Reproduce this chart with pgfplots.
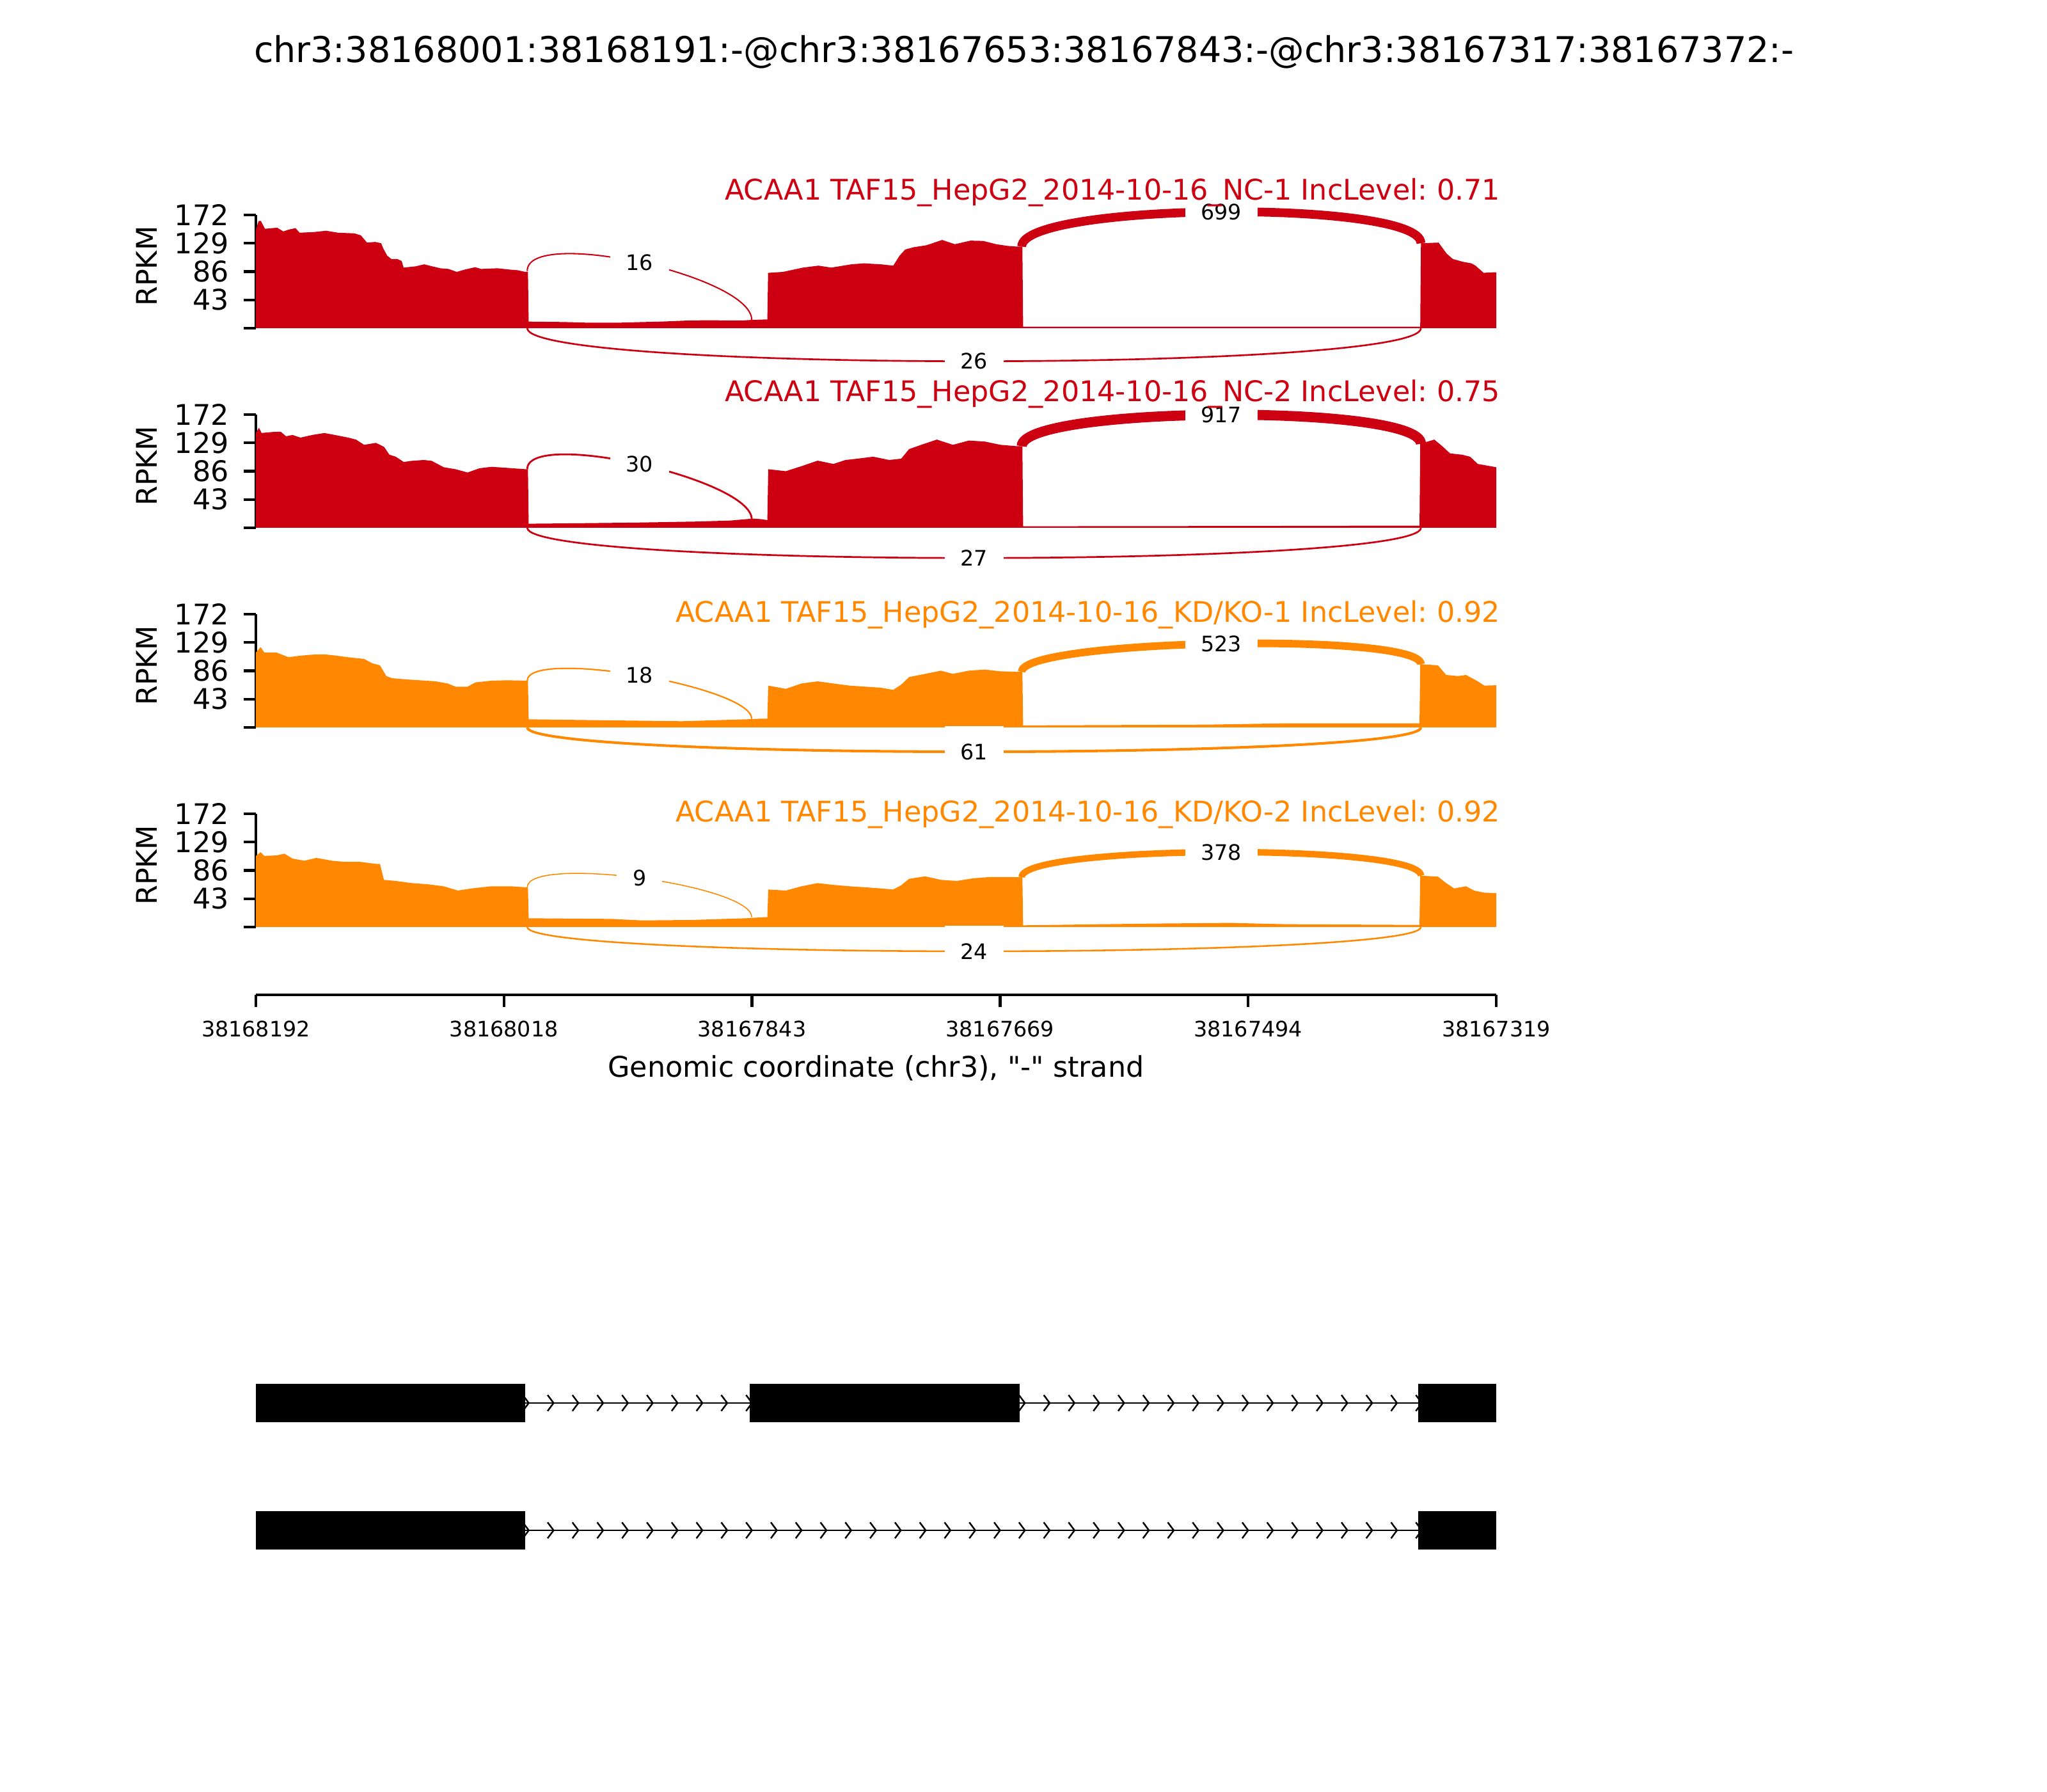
\documentclass[border=0pt]{standalone}
\usepackage{fontspec}
\setmainfont{DejaVu Sans}[Ligatures=TeXOff]
\usepackage{pgfplots}
\pgfplotsset{compat=1.18}
\frenchspacing

\definecolor{ncred}{HTML}{CC0011}
\definecolor{kdorange}{HTML}{FF8800}

\newcommand{\fs}[1]{\fontsize{#1}{#1}\selectfont}

% intron chevron
\pgfdeclareplotmark{chev}{%
  \pgfpathmoveto{\pgfqpoint{-1.68pt}{2.25pt}}%
  \pgfpathlineto{\pgfqpoint{0pt}{0pt}}%
  \pgfpathlineto{\pgfqpoint{-1.68pt}{-2.25pt}}%
  \pgfusepathqstroke}

\tikzset{
  jlab/.style={fill=white, text=black, font=\fs{6}, inner xsep=4.45pt,
    inner ysep=5pt, text height=4.4pt, text depth=0pt},
  ptitle/.style={anchor=base east, inner sep=0pt, font=\fs{8}, xshift=1.3pt},
}

\pgfplotsset{
  panel/.style={
    scale only axis, width=349.02pt, height=31.86pt,
    anchor=south west,
    xmin=0, xmax=873, ymin=0, ymax=172,
    clip=false,
    axis x line=none, axis y line*=left,
    y axis line style={-, line width=0.8pt},
    ytick={0,43,86,129,172}, yticklabels={,43,86,129,172},
    tick align=outside, major tick length=3.5pt,
    ytick style={line width=0.8pt, black},
    yticklabel style={font=\fs{8}, anchor=east, inner sep=0pt, xshift=-3.9pt},
    /pgf/number format/assume math mode=true,
  },
}

\begin{document}
\begin{tikzpicture}
\useasboundingbox (0,0) rectangle (576pt,504pt);

% ---------- NC-1 ----------
\begin{axis}[panel, at={(72pt,411.66pt)}]
\addplot[fill=ncred, draw=none] coordinates {
(0,150) (2,163) (3.5,163) (6.4,151) (15,152.6) (19.3,147) (23.6,150) (27.9,152)
(30.8,145) (40.8,146) (49.4,148) (58,145) (69.5,144) (73.9,141) (78.2,130) (84,131)
(88.2,129) (89.7,121) (92.5,110) (95.4,105) (99.7,105) (102.6,102) (104,92) (112.6,94)
(118.4,97) (124,94) (129.9,91) (135.6,90) (141.4,85.5) (147,89) (154.3,92.6) (158.6,90)
(170,91) (178.7,89) (184.4,88) (189.6,85.5) (191.5,86)
(192,10) (216,9.4) (233,8.4) (256,8.4) (273.5,9.4) (285,10) (305,11.7) (316.5,12)
(342.4,11.7) (349.6,12.6) (360,13.3)
(360.5,84) (371,85.5) (385,92) (396,95) (405,92) (419,97) (428,98.5) (440,97)
(448.6,95) (453,110) (457,119.5) (463,123) (472,126) (483,134) (492,127.6) (503,133)
(512,132.5) (521,127.6) (529,125) (535,124) (539.5,124)
(540,2.3) (700,2.3) (819.5,2.3)
(820,129) (832.4,130) (838.2,113) (842.5,105) (849.8,100.7) (855.5,98.5) (858.4,95)
(864.2,84) (867,84.5) (873,85)
} \closedcycle;
\draw[ncred, line width=0.37pt] (axis cs:191,87) .. controls (axis cs:191,154) and (axis cs:349,79.6) .. (axis cs:349,12.6) node[jlab, pos=0.5] {16};
\draw[ncred, line width=2.47pt] (axis cs:539,124) .. controls (axis cs:539,191) and (axis cs:820,196) .. (axis cs:820,129) node[jlab, pos=0.5] {699};
\draw[ncred, line width=0.48pt] (axis cs:191,0) .. controls (axis cs:191,-67) and (axis cs:820,-67) .. (axis cs:820,0) node[jlab, pos=0.5] {26};
\node[rotate=90, font=\fs{8}] at ([xshift=-30.7pt]axis cs:0,94) {RPKM};
\node[ptitle, text=ncred] at ([yshift=4.14pt]axis cs:873,172) {ACAA1 TAF15\_HepG2\_2014-10-16\_NC-1 IncLevel: 0.71};
\end{axis}

% ---------- NC-2 ----------
\begin{axis}[panel, at={(72pt,355.5pt)}]
\addplot[fill=ncred, draw=none] coordinates {
(0,144) (2.2,152) (4,144) (11.75,145.5) (17.4,146) (21.3,139) (25.75,141) (31.4,137)
(39.75,141) (48.2,144) (56.6,140.6) (65,137) (70.5,134) (76.2,126) (84.5,129) (90.2,123)
(94,111) (98.5,108) (104,100) (109.75,101.7) (118.15,103) (123.75,101.7) (132.2,92)
(140.55,89) (149,84) (157.35,90.4) (165.75,92.6) (177,91) (189.8,89) (191.5,89)
(192,6.2) (230,7) (270,8) (310,9.5) (334,11) (350,14) (356,13) (360,11.7)
(360.6,89) (373,86) (384,93.6) (395.4,102) (406.5,97) (415,103) (423.4,105) (434.5,108)
(445.75,103) (454.2,105) (459.75,119.5) (468.2,126) (479.35,134) (490.55,126)
(501.75,132.5) (513,131) (524.15,126) (535.35,124) (539.5,124)
(540,2.3) (700,2.8) (780,3.2) (819,3.2)
(819.5,127.6) (829.4,134) (835,124) (840.5,113) (849,111) (854.6,108) (860,97) (873,92)
} \closedcycle;
\draw[ncred, line width=0.51pt] (axis cs:191,89) .. controls (axis cs:191,150.2) and (axis cs:349,74.2) .. (axis cs:349,13) node[jlab, pos=0.5] {30};
\draw[ncred, line width=2.83pt] (axis cs:539,124) .. controls (axis cs:539,185.2) and (axis cs:820,188.8) .. (axis cs:820,127.6) node[jlab, pos=0.5] {917};
\draw[ncred, line width=0.49pt] (axis cs:191,0) .. controls (axis cs:191,-61.2) and (axis cs:820,-61.2) .. (axis cs:820,0) node[jlab, pos=0.5] {27};
\node[rotate=90, font=\fs{8}] at ([xshift=-30.7pt]axis cs:0,94) {RPKM};
\node[ptitle, text=ncred] at ([yshift=3.6pt]axis cs:873,172) {ACAA1 TAF15\_HepG2\_2014-10-16\_NC-2 IncLevel: 0.75};
\end{axis}

% ---------- KD/KO-1 ----------
\begin{axis}[panel, at={(72pt,299.34pt)}]
\addplot[fill=kdorange, draw=none] coordinates {
(0,113.7) (3.35,122) (6,113.7) (14.55,113.7) (23,106.6) (31.35,109) (39.75,110.5)
(48.2,111) (56.6,109) (65,106.6) (76.2,104) (81.75,97.5) (87.35,94.3) (91.8,78)
(95.75,74.8) (104.15,73.2) (115.35,71.6) (126.55,70) (135,66.7) (140.55,61.9) (149,61.9)
(154.55,68.4) (165.75,71) (177,71.6) (189.8,71) (191.5,71)
(192,12.3) (250,10.7) (300,9.4) (345,12.3) (356,13.3) (360,13.3)
(360.6,63.5) (373,58.6) (384,66.7) (395.4,70) (406.5,66.7) (417.75,63.5) (429,61.9)
(440,60.3) (448.6,57) (454.2,65) (459.75,76.5) (471,81.3) (482.2,86.2) (490.55,81.3)
(501.75,86.2) (513,87.8) (524.15,85.2) (535.35,84.5) (539.5,84.5)
(540,3) (670,4.2) (725,6.2) (819,6.2)
(819.5,96) (832,94.3) (837.75,79.7) (846,78) (851.75,79.7) (860,70) (864.6,63.5) (873,64)
} \closedcycle;
\draw[kdorange, line width=0.40pt] (axis cs:191,71) .. controls (axis cs:191,120.3) and (axis cs:349,62.3) .. (axis cs:349,13) node[jlab, pos=0.5] {18};
\draw[kdorange, line width=2.14pt] (axis cs:539,84.5) .. controls (axis cs:539,133.8) and (axis cs:820,145.3) .. (axis cs:820,96) node[jlab, pos=0.5] {523};
\draw[kdorange, line width=0.73pt] (axis cs:191,0) .. controls (axis cs:191,-49.3) and (axis cs:820,-49.3) .. (axis cs:820,0) node[jlab, pos=0.5] {61};
\node[rotate=90, font=\fs{8}] at ([xshift=-30.7pt]axis cs:0,94) {RPKM};
\node[ptitle, text=kdorange] at ([yshift=-2.16pt]axis cs:873,172) {ACAA1 TAF15\_HepG2\_2014-10-16\_KD/KO-1 IncLevel: 0.92};
\end{axis}

% ---------- KD/KO-2 ----------
\begin{axis}[panel, at={(72pt,243.18pt)}]
\addplot[fill=kdorange, draw=none] coordinates {
(0,108) (3.35,113.7) (6,108) (14.55,108.8) (20.15,111.4) (25.75,104) (34.15,100.7)
(42.55,105) (53.75,100.7) (62.15,99) (73.35,99) (84.55,95.9) (87.35,95.9) (90.15,71.6)
(98.55,70) (109.75,66.7) (120.95,65) (132.15,61.9) (142.2,55.4) (151.75,58.6)
(165.75,61.9) (179.75,61.9) (189.8,60.3) (191.5,60.3)
(192,13.3) (250,12.3) (272,10) (306,10.7) (345,13.3) (357,14.9) (360,14.9)
(360.6,57) (373,55.4) (384,61.9) (395.4,66.7) (406.5,64) (417.75,61.9) (429,60.3)
(440,58.6) (448.6,57) (454.2,63.5) (459.75,73.2) (471,77) (482.2,71.6) (493.4,70)
(504.6,73.9) (515.75,75.8) (535.35,75.8) (539.5,75.8)
(540,2.6) (630,5.2) (686,6.2) (726,4.2) (819,3.2)
(819.5,78) (832,76.5) (837.75,66.7) (843.35,58.6) (851.75,61.9) (857.35,55.4)
(864.6,52.2) (873,51.5)
} \closedcycle;
\draw[kdorange, line width=0.28pt] (axis cs:191,60.3) .. controls (axis cs:191,109.5) and (axis cs:349,64.2) .. (axis cs:349,15) node[jlab, pos=0.5] {9};
\draw[kdorange, line width=1.82pt] (axis cs:539,75.8) .. controls (axis cs:539,125) and (axis cs:820,127.2) .. (axis cs:820,78) node[jlab, pos=0.5] {378};
\draw[kdorange, line width=0.46pt] (axis cs:191,0) .. controls (axis cs:191,-49.2) and (axis cs:820,-49.2) .. (axis cs:820,0) node[jlab, pos=0.5] {24};
\node[rotate=90, font=\fs{8}] at ([xshift=-30.7pt]axis cs:0,94) {RPKM};
\node[ptitle, text=kdorange] at ([yshift=-2.16pt]axis cs:873,172) {ACAA1 TAF15\_HepG2\_2014-10-16\_KD/KO-2 IncLevel: 0.92};
\end{axis}

% ---------- genomic x axis ----------
\begin{axis}[
  scale only axis, width=349.02pt, height=10pt,
  at={(72pt,224.1pt)}, anchor=south west,
  xmin=0, xmax=873, ymin=0, ymax=1,
  axis y line=none, axis x line*=bottom,
  x axis line style={-, line width=0.8pt},
  xtick={0,174.6,349.2,523.8,698.4,873},
  xticklabels={38168192,38168018,38167843,38167669,38167494,38167319},
  tick align=outside, major tick length=3.5pt,
  xtick style={line width=0.8pt, black},
  xticklabel style={font=\fs{6}, anchor=north, inner sep=0pt, yshift=-3.7pt},
  xlabel={Genomic coordinate (chr3), "-" strand},
  xlabel style={font=\fs{8}, at={(rel axis cs:0.5,0)}, anchor=center, yshift=-20.7pt},
]
\end{axis}

% ---------- gene structure ----------
\begin{axis}[
  scale only axis, width=349.02pt, height=71.64pt,
  at={(72pt,55.53pt)}, anchor=south west,
  xmin=0, xmax=873, ymin=-0.5, ymax=1.5,
  axis lines=none, clip=false,
]
\addplot[black, line width=0.5pt] coordinates {(0,1) (873,1)};
\addplot[black, line width=0.5pt] coordinates {(0,0) (873,0)};
\addplot[only marks, mark=chev, mark options={black, line width=0.45pt}] coordinates {
(192.06,1) (209.52,1) (226.98,1) (244.44,1) (261.9,1) (279.36,1)
(296.82,1) (314.28,1) (331.74,1) (349.2,1) (366.66,1) (384.12,1) (401.58,1) (419.04,1)
(436.5,1) (453.96,1) (471.42,1) (488.88,1) (506.34,1) (523.8,1) (541.26,1) (558.72,1)
(576.18,1) (593.64,1) (611.1,1) (628.56,1) (646.02,1) (663.48,1) (680.94,1) (698.4,1)
(715.86,1) (733.32,1) (750.78,1) (768.24,1) (785.7,1) (803.16,1) (820.62,1)
};
\addplot[only marks, mark=chev, mark options={black, line width=0.45pt}] coordinates {
(192.06,0) (209.52,0) (226.98,0) (244.44,0) (261.9,0) (279.36,0)
(296.82,0) (314.28,0) (331.74,0) (349.2,0) (366.66,0) (384.12,0) (401.58,0) (419.04,0)
(436.5,0) (453.96,0) (471.42,0) (488.88,0) (506.34,0) (523.8,0) (541.26,0) (558.72,0)
(576.18,0) (593.64,0) (611.1,0) (628.56,0) (646.02,0) (663.48,0) (680.94,0) (698.4,0)
(715.86,0) (733.32,0) (750.78,0) (768.24,0) (785.7,0) (803.16,0) (820.62,0)
};
% exons, transcript 1 (inclusion)
\addplot[fill=black, draw=none] coordinates {(0,0.849) (189.6,0.849) (189.6,1.151) (0,1.151)};
\addplot[fill=black, draw=none] coordinates {(347.6,0.849) (537.6,0.849) (537.6,1.151) (347.6,1.151)};
\addplot[fill=black, draw=none] coordinates {(818.1,0.849) (873,0.849) (873,1.151) (818.1,1.151)};
% exons, transcript 2 (skipping)
\addplot[fill=black, draw=none] coordinates {(0,-0.151) (189.6,-0.151) (189.6,0.151) (0,0.151)};
\addplot[fill=black, draw=none] coordinates {(818.1,-0.151) (873,-0.151) (873,0.151) (818.1,0.151)};
\end{axis}

\node[font=\fs{10}, anchor=base] at (288.2pt,486.36pt) {chr3:38168001:38168191:-@chr3:38167653:38167843:-@chr3:38167317:38167372:-};

\end{tikzpicture}
\end{document}
